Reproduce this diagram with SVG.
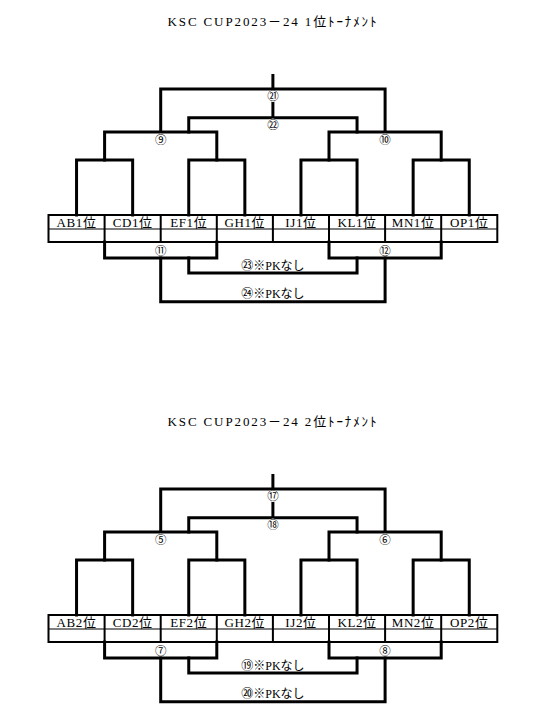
<svg xmlns="http://www.w3.org/2000/svg" width="539" height="723" viewBox="0 0 539 723">
<style>
.ln{stroke:#000;stroke-width:3;fill:none;stroke-linecap:square;stroke-linejoin:miter}
.tb{stroke:#000;stroke-width:2;fill:none}
.ti{stroke:#000;stroke-width:1.2;fill:none}
.t{font-family:"Liberation Serif","Noto Sans CJK JP",serif;fill:#000;text-anchor:middle}
.title{font-size:13px}
.cell{font-size:13px;letter-spacing:0.6px}
.num{font-size:11.5px}
.pk{font-size:12px}
.bg{fill:#fff;stroke:none}
</style>
<rect width="539" height="723" fill="#fff"/>

<!-- ===== Bracket 1 ===== -->
<g id="bracket1">
  <text id="title1" class="t title" x="272" y="26" textLength="209" lengthAdjust="spacing">KSC CUP2023－24 1位ﾄｰﾅﾒﾝﾄ</text>
  <g id="connectors1">
    <path class="ln" d="M76.55,215 V160 H132.65 V215"/>
    <path class="ln" d="M188.75,215 V160 H244.85 V215"/>
    <path class="ln" d="M300.95,215 V160 H357.05 V215"/>
    <path class="ln" d="M413.15,215 V160 H469.25 V215"/>
    <path class="ln" d="M104.6,160 V132 H216.8 V160"/>
    <path class="ln" d="M329,160 V132 H441.2 V160"/>
    <path class="ln" d="M160.7,132 V89 H385.1 V132"/>
    <path class="ln" d="M188.75,132 V117.7 H357.05 V132"/>
    <path class="ln" d="M272.9,75.5 V117.7"/>
    <path class="ln" d="M104.6,242 V258 H216.8 V242"/>
    <path class="ln" d="M329,242 V258 H441.2 V242"/>
    <path class="ln" d="M188.75,258 V273 H357.05 V258"/>
    <path class="ln" d="M160.7,258 V301.7 H385.1 V258"/>
  </g>
  <g id="table1">
    <rect class="tb" x="48.5" y="215" width="448.8" height="27"/>
    <line class="ti" x1="48.5" y1="229" x2="497.3" y2="229"/>
    <path class="tb" d="M104.6,215V242 M160.7,215V242 M216.8,215V242 M272.9,215V242 M329,215V242 M385.1,215V242 M441.2,215V242"/>
  </g>
  <g id="teams1">
    <g id="t1-AB"><text class="t cell" x="76.55" y="226.5">AB1位</text></g>
    <g id="t1-CD"><text class="t cell" x="132.65" y="226.5">CD1位</text></g>
    <g id="t1-EF"><text class="t cell" x="188.75" y="226.5">EF1位</text></g>
    <g id="t1-GH"><text class="t cell" x="244.85" y="226.5">GH1位</text></g>
    <g id="t1-IJ"><text class="t cell" x="300.95" y="226.5">IJ1位</text></g>
    <g id="t1-KL"><text class="t cell" x="357.05" y="226.5">KL1位</text></g>
    <g id="t1-MN"><text class="t cell" x="413.15" y="226.5">MN1位</text></g>
    <g id="t1-OP"><text class="t cell" x="469.25" y="226.5">OP1位</text></g>
  </g>
  <g id="m21"><circle class="bg" cx="272.9" cy="96" r="6"/><text class="t num" x="272.9" y="100">㉑</text></g>
  <g id="m22"><circle class="bg" cx="272.9" cy="124.5" r="6"/><text class="t num" x="272.9" y="128.5">㉒</text></g>
  <g id="m9"><circle class="bg" cx="160.7" cy="139.5" r="6"/><text class="t num" x="160.7" y="143.5">⑨</text></g>
  <g id="m10"><circle class="bg" cx="385.1" cy="139.5" r="6"/><text class="t num" x="385.1" y="143.5">⑩</text></g>
  <g id="m11"><text class="t num" x="160.7" y="254.5">⑪</text></g>
  <g id="m12"><text class="t num" x="385.1" y="254.5">⑫</text></g>
  <g id="m23"><text class="t pk" x="272.9" y="269.5">㉓※PKなし</text></g>
  <g id="m24"><text class="t pk" x="272.9" y="297.5">㉔※PKなし</text></g>
</g>

<!-- ===== Bracket 2 ===== -->
<g id="bracket2" transform="translate(0,400)">
  <text id="title2" class="t title" x="272" y="26" textLength="209" lengthAdjust="spacing">KSC CUP2023－24 2位ﾄｰﾅﾒﾝﾄ</text>
  <g id="connectors2">
    <path class="ln" d="M76.55,215 V160 H132.65 V215"/>
    <path class="ln" d="M188.75,215 V160 H244.85 V215"/>
    <path class="ln" d="M300.95,215 V160 H357.05 V215"/>
    <path class="ln" d="M413.15,215 V160 H469.25 V215"/>
    <path class="ln" d="M104.6,160 V132 H216.8 V160"/>
    <path class="ln" d="M329,160 V132 H441.2 V160"/>
    <path class="ln" d="M160.7,132 V89 H385.1 V132"/>
    <path class="ln" d="M188.75,132 V117.7 H357.05 V132"/>
    <path class="ln" d="M272.9,75.5 V117.7"/>
    <path class="ln" d="M104.6,242 V258 H216.8 V242"/>
    <path class="ln" d="M329,242 V258 H441.2 V242"/>
    <path class="ln" d="M188.75,258 V273 H357.05 V258"/>
    <path class="ln" d="M160.7,258 V301.7 H385.1 V258"/>
  </g>
  <g id="table2">
    <rect class="tb" x="48.5" y="215" width="448.8" height="27"/>
    <line class="ti" x1="48.5" y1="229" x2="497.3" y2="229"/>
    <path class="tb" d="M104.6,215V242 M160.7,215V242 M216.8,215V242 M272.9,215V242 M329,215V242 M385.1,215V242 M441.2,215V242"/>
  </g>
  <g id="teams2">
    <g id="t2-AB"><text class="t cell" x="76.55" y="226.5">AB2位</text></g>
    <g id="t2-CD"><text class="t cell" x="132.65" y="226.5">CD2位</text></g>
    <g id="t2-EF"><text class="t cell" x="188.75" y="226.5">EF2位</text></g>
    <g id="t2-GH"><text class="t cell" x="244.85" y="226.5">GH2位</text></g>
    <g id="t2-IJ"><text class="t cell" x="300.95" y="226.5">IJ2位</text></g>
    <g id="t2-KL"><text class="t cell" x="357.05" y="226.5">KL2位</text></g>
    <g id="t2-MN"><text class="t cell" x="413.15" y="226.5">MN2位</text></g>
    <g id="t2-OP"><text class="t cell" x="469.25" y="226.5">OP2位</text></g>
  </g>
  <g id="m17"><circle class="bg" cx="272.9" cy="96" r="6"/><text class="t num" x="272.9" y="100">⑰</text></g>
  <g id="m18"><circle class="bg" cx="272.9" cy="124.5" r="6"/><text class="t num" x="272.9" y="128.5">⑱</text></g>
  <g id="m5"><circle class="bg" cx="160.7" cy="139.5" r="6"/><text class="t num" x="160.7" y="143.5">⑤</text></g>
  <g id="m6"><circle class="bg" cx="385.1" cy="139.5" r="6"/><text class="t num" x="385.1" y="143.5">⑥</text></g>
  <g id="m7"><text class="t num" x="160.7" y="254.5">⑦</text></g>
  <g id="m8"><text class="t num" x="385.1" y="254.5">⑧</text></g>
  <g id="m19"><text class="t pk" x="272.9" y="269.5">⑲※PKなし</text></g>
  <g id="m20"><text class="t pk" x="272.9" y="297.5">⑳※PKなし</text></g>
</g>
</svg>
